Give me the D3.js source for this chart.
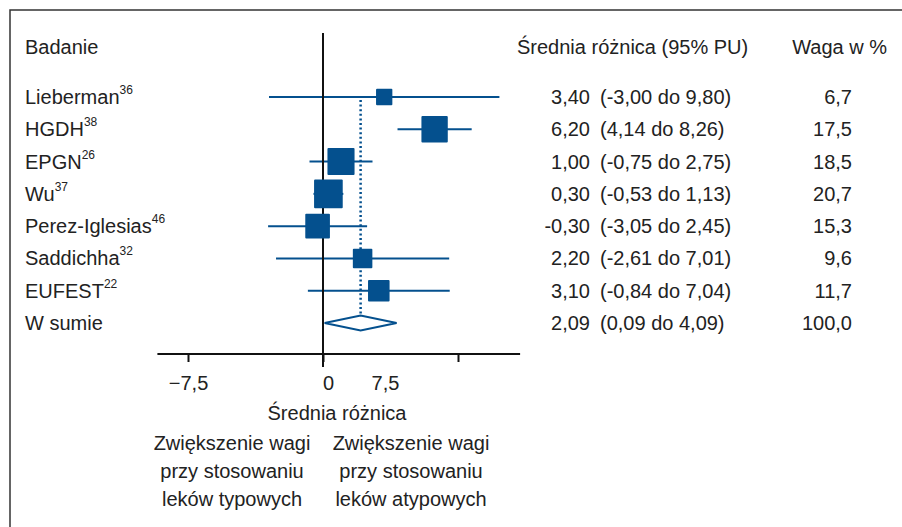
<!DOCTYPE html>
<html>
<head>
<meta charset="utf-8">
<script src="https://cdn.jsdelivr.net/npm/d3@7"></script>
<style>
  html, body { margin: 0; padding: 0; background: #fff; }
  svg { display: block; }
  text { font-family: "Liberation Sans", Arial, sans-serif; fill: #222; }
</style>
</head>
<body>
<svg id="chart" width="902" height="527"></svg>
<script>
// Study names, reference numbers and meta-analysis results
const studies   = ["Lieberman", "HGDH", "EPGN", "Wu", "Perez-Iglesias", "Saddichha", "EUFEST"];
const refs      = ["36", "38", "26", "37", "46", "32", "22"];
const means     = [3.40, 6.20, 1.00, 0.30, -0.30, 2.20, 3.10];
const lower     = [-3.00, 4.14, -0.75, -0.53, -3.05, -2.61, -0.84];
const upper     = [9.80, 8.26, 2.75, 1.13, 2.45, 7.01, 7.04];
const weights   = [6.7, 17.5, 18.5, 20.7, 15.3, 9.6, 11.7];
const pooled    = { label: "W sumie", mean: 2.09, lower: 0.09, upper: 4.09, weight: 100.0 };
const tickVals  = [-7.5, 0, 7.5];
const tickText  = ["\u22127,5", "0", "7,5"];
const axisExtent = [-9.2, 10.95];

const fmt2 = v => v.toFixed(2).replace(".", ",");
const fmt1 = v => v.toFixed(1).replace(".", ",");

const svg = d3.select("#chart");
const blue = "#04508e";
const fs = 20;

// frame (top and left edges)
svg.append("path")
  .attr("d", "M10,527 V10 H902")
  .attr("fill", "none").attr("stroke", "#333").attr("stroke-width", 1.5);

// scales
const x = d3.scaleLinear().domain([0, 1]).range([323, 341]);
const rowKeys = studies.concat([pooled.label]);
const y = d3.scalePoint().domain(rowKeys).range([97, 323]);
const side = d3.scaleSqrt().domain([0, 1]).range([0, 6.3]);

const label = (sel) => sel.attr("dominant-baseline", "central").style("font-size", fs + "px");

// headers
svg.append("text").attr("x", 25).attr("y", 47).call(label).text("Badanie");
svg.append("text").attr("x", 517).attr("y", 47).call(label).text("Średnia różnica (95% PU)");
svg.append("text").attr("x", 887).attr("y", 47).call(label)
  .attr("text-anchor", "end").text("Waga w %");

// study labels with superscript reference numbers
const rows = studies.map((s, i) => ({ name: s, ref: refs[i], mean: means[i], lo: lower[i], hi: upper[i], w: weights[i] }));

rows.forEach(r => {
  const t = svg.append("text").attr("x", 25).attr("y", y(r.name)).call(label);
  t.append("tspan").text(r.name);
  t.append("tspan").attr("dy", -7).style("font-size", "12px").text(r.ref);
});
svg.append("text").attr("x", 25).attr("y", y(pooled.label)).call(label).text(pooled.label);

// numeric columns
const allRows = rows.concat([{ name: pooled.label, mean: pooled.mean, lo: pooled.lower, hi: pooled.upper, w: pooled.weight }]);
allRows.forEach(r => {
  svg.append("text").attr("x", 590).attr("y", y(r.name)).call(label)
    .attr("text-anchor", "end").text(fmt2(r.mean));
  svg.append("text").attr("x", 600).attr("y", y(r.name)).call(label)
    .text(`(${fmt2(r.lo)} do ${fmt2(r.hi)})`);
  svg.append("text").attr("x", 852).attr("y", y(r.name)).call(label)
    .attr("text-anchor", "end").text(fmt1(r.w));
});

// pooled estimate dotted reference line
svg.append("line")
  .attr("x1", x(pooled.mean)).attr("x2", x(pooled.mean))
  .attr("y1", y(studies[0]) + 3).attr("y2", y(pooled.label) + 7)
  .attr("stroke", blue).attr("stroke-width", 2.5).attr("stroke-dasharray", "2,2.6");

// confidence intervals
svg.selectAll("line.ci").data(rows).join("line").attr("class", "ci")
  .attr("x1", d => x(d.lo)).attr("x2", d => x(d.hi))
  .attr("y1", d => y(d.name)).attr("y2", d => y(d.name))
  .attr("stroke", blue).attr("stroke-width", 2);

// zero line
svg.append("line").attr("x1", x(0)).attr("x2", x(0)).attr("y1", 33).attr("y2", 367)
  .attr("stroke", "#111").attr("stroke-width", 2);

// weighted squares
svg.selectAll("rect.pt").data(rows).join("rect").attr("class", "pt")
  .attr("x", d => x(d.mean) - side(d.w) / 2)
  .attr("y", d => y(d.name) - side(d.w) / 2)
  .attr("width", d => side(d.w)).attr("height", d => side(d.w))
  .attr("rx", 1)
  .attr("fill", blue);

// pooled diamond
const py = y(pooled.label);
svg.append("path")
  .attr("d", `M${x(pooled.lower)},${py} L${x(pooled.mean)},${py - 7.5} L${x(pooled.upper)},${py} L${x(pooled.mean)},${py + 7.5} Z`)
  .attr("fill", "#fff").attr("stroke", blue).attr("stroke-width", 2);

// x axis
const axisY = 354;
svg.append("line").attr("x1", x(axisExtent[0])).attr("x2", x(axisExtent[1]))
  .attr("y1", axisY).attr("y2", axisY).attr("stroke", "#111").attr("stroke-width", 2);
const ax = svg.append("g").attr("transform", `translate(0,${axisY})`)
  .call(d3.axisBottom(x).tickValues(tickVals).tickSize(8).tickFormat((d, i) => tickText[i]));
ax.select(".domain").remove();
ax.selectAll(".tick line").attr("stroke", "#111").attr("stroke-width", 2);
// label placement as printed under the axis
const labelShift = [0, 5, -73];
ax.selectAll(".tick text")
  .attr("x", (d, i) => labelShift[i])
  .attr("y", 22)
  .attr("dy", "0.71em")
  .style("font-size", fs + "px")
  .style("font-family", "'Liberation Sans', Arial, sans-serif")
  .attr("fill", "#222");

// axis title and direction notes
svg.append("text").attr("x", 337).attr("y", 413).call(label)
  .attr("text-anchor", "middle").text("Średnia różnica");
const leftNote = ["Zwiększenie wagi", "przy stosowaniu", "leków typowych"];
const rightNote = ["Zwiększenie wagi", "przy stosowaniu", "leków atypowych"];
leftNote.forEach((s, i) => svg.append("text").attr("x", 232).attr("y", 443 + i * 28)
  .call(label).attr("text-anchor", "middle").text(s));
rightNote.forEach((s, i) => svg.append("text").attr("x", 411).attr("y", 443 + i * 28)
  .call(label).attr("text-anchor", "middle").text(s));
</script>
</body>
</html>
